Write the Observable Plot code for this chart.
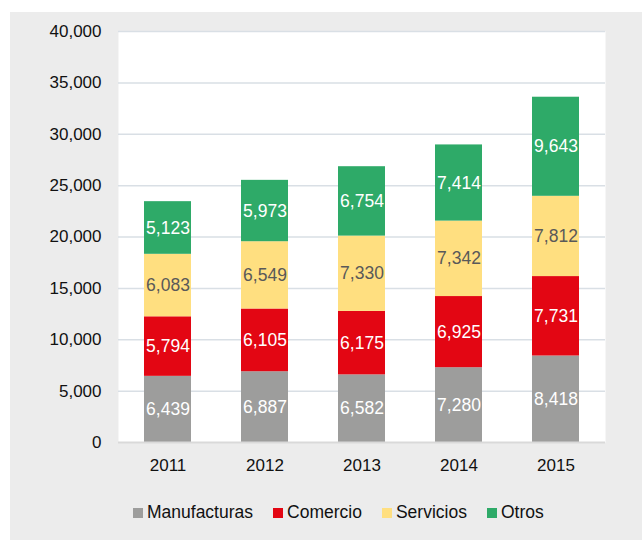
<!DOCTYPE html>
<html>
<head>
<meta charset="utf-8">
<script src="https://cdn.jsdelivr.net/npm/d3@7"></script>
<script src="https://cdn.jsdelivr.net/npm/@observablehq/plot@0.6"></script>
<style>
  html, body { margin: 0; padding: 0; background: #ffffff; }
  #panel { position: absolute; left: 10px; top: 12px; width: 632px; height: 528px; background: #ececec; }
  #chart { position: absolute; left: 0; top: 0; }
  #legend { position: absolute; left: 123px; top: 490px; display: flex; align-items: center;
            font-family: "Liberation Sans", Arial, sans-serif; font-size: 17.5px; color: #111; white-space: nowrap; }
  .item { display: flex; align-items: center; margin-right: 20px; }
  .sw { width: 10px; height: 10px; margin-right: 4px; }
</style>
</head>
<body>
<div id="panel">
  <div id="chart"></div>
  <div id="legend"></div>
</div>
<script>
const years = ["2011", "2012", "2013", "2014", "2015"];
const series = ["Manufacturas", "Comercio", "Servicios", "Otros"];
const manufacturas = [6439, 6887, 6582, 7280, 8418];
const comercio = [5794, 6105, 6175, 6925, 7731];
const servicios = [6083, 6549, 7330, 7342, 7812];
const otros = [5123, 5973, 6754, 7414, 9643];
const colors = ["#9d9d9c", "#e30613", "#ffdf80", "#2eaa68"];
const yTicks = [0, 5000, 10000, 15000, 20000, 25000, 30000, 35000, 40000];

const valuesBySeries = [manufacturas, comercio, servicios, otros];
const rows = [];
series.forEach((s, i) => {
  years.forEach((y, j) => rows.push({ year: y, series: s, value: valuesBySeries[i][j] }));
});

const fmt = d3.format(",");

const chart = Plot.plot({
  width: 632,
  height: 470,
  marginLeft: 108,
  marginRight: 37,
  marginTop: 19,
  marginBottom: 40,
  style: { background: "transparent", fontFamily: "'Liberation Sans', Arial, sans-serif", fontSize: "17px", color: "#111" },
  x: { domain: years, paddingInner: 0.52, paddingOuter: 0.26, label: null, tickSize: 0, tickPadding: 16 },
  y: { domain: [0, 40000], ticks: yTicks, tickFormat: d => fmt(d), label: null, tickSize: 0, tickPadding: 17 },
  color: { domain: series, range: colors },
  marks: [
    Plot.frame({ fill: "white", stroke: null }),
    Plot.ruleY(yTicks.slice(1), { stroke: "#d9dfe5", strokeWidth: 1.5 }),
    Plot.barY(rows, { x: "year", y: "value", fill: "series", z: "series" }),
    Plot.ruleY([0], { stroke: "#d9d9d9", strokeWidth: 2 }),
    Plot.text(rows, Plot.stackY({ x: "year", y: "value", z: "series",
      text: d => d.series === "Servicios" ? "" : fmt(d.value), fill: "white", fontSize: 17.5 })),
    Plot.text(rows, Plot.stackY({ x: "year", y: "value", z: "series",
      text: d => d.series === "Servicios" ? fmt(d.value) : "", fill: "#595959", fontSize: 17.5 }))
  ]
});
document.getElementById("chart").appendChild(chart);

const legend = document.getElementById("legend");
series.forEach((s, i) => {
  const it = document.createElement("div");
  it.className = "item";
  const sw = document.createElement("span");
  sw.className = "sw";
  sw.style.background = colors[i];
  const t = document.createElement("span");
  t.textContent = s;
  it.appendChild(sw);
  it.appendChild(t);
  legend.appendChild(it);
});
</script>
</body>
</html>
